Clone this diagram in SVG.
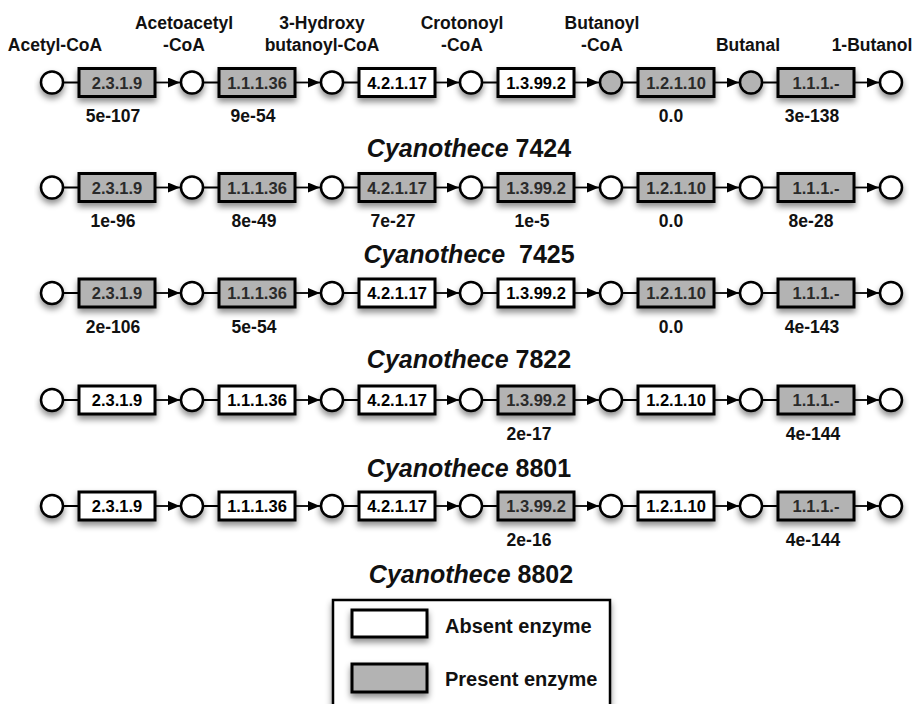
<svg xmlns="http://www.w3.org/2000/svg" width="919" height="704" viewBox="0 0 919 704">
<defs>
<filter id="sh" x="-30%" y="-40%" width="160%" height="200%">
<feDropShadow dx="0" dy="4" stdDeviation="3" flood-color="#000" flood-opacity="0.45"/>
</filter>
<marker id="ah" markerWidth="13" markerHeight="11" refX="12" refY="5" orient="auto" markerUnits="userSpaceOnUse">
<path d="M0,0 L12,5 L0,10 z" fill="#000"/>
</marker>
<style>
text{font-family:"Liberation Sans",Arial,Helvetica,sans-serif;font-weight:bold;}
.met circle{fill:#fff;stroke:#000;stroke-width:2.5;filter:url(#sh);}
.met.g circle{fill:#b3b3b3;}
.enz rect{stroke:#000;stroke-width:3;filter:url(#sh);}
.abs rect{fill:#fff;}
.pres rect{fill:#b3b3b3;}
.enz text{font-size:16.5px;text-anchor:middle;}
.abs text{fill:#000;}
.pres text{fill:#2a2a2a;}
.val{font-size:17.5px;text-anchor:middle;fill:#111;}
.top{font-size:17.5px;text-anchor:middle;fill:#111;}
.title{font-size:25px;text-anchor:middle;fill:#111;}
.title .sp{font-style:italic;}
.ln{stroke:#000;stroke-width:1.8;fill:none;}
.ar{stroke:#000;stroke-width:1.8;fill:none;marker-end:url(#ah);}
.legtxt{font-size:20px;fill:#111;}
</style>
</defs>
<rect width="919" height="704" fill="#fff"/>

<g id="top-labels">
<text class="top" x="55" y="51">Acetyl-CoA</text>
<text class="top" x="184" y="29">Acetoacetyl</text>
<text class="top" x="184" y="51">-CoA</text>
<text class="top" x="322" y="29">3-Hydroxy</text>
<text class="top" x="322" y="51">butanoyl-CoA</text>
<text class="top" x="462" y="29">Crotonoyl</text>
<text class="top" x="462" y="51">-CoA</text>
<text class="top" x="602" y="29">Butanoyl</text>
<text class="top" x="602" y="51">-CoA</text>
<text class="top" x="748" y="51">Butanal</text>
<text class="top" x="872" y="51">1-Butanol</text>
</g>

<g id="connectors">
<path class="ln" d="M63,82.5H79 M203,82.5H219 M343,82.5H359 M482,82.5H498 M622,82.5H638 M762,82.5H778"/>
<path class="ar" d="M155,82.5H180"/><path class="ar" d="M295,82.5H320"/><path class="ar" d="M435,82.5H459"/><path class="ar" d="M574,82.5H599"/><path class="ar" d="M714,82.5H739"/><path class="ar" d="M854,82.5H879"/>
<path class="ln" d="M63,187.5H79 M203,187.5H219 M343,187.5H359 M482,187.5H498 M622,187.5H638 M762,187.5H778"/>
<path class="ar" d="M155,187.5H180"/><path class="ar" d="M295,187.5H320"/><path class="ar" d="M435,187.5H459"/><path class="ar" d="M574,187.5H599"/><path class="ar" d="M714,187.5H739"/><path class="ar" d="M854,187.5H879"/>
<path class="ln" d="M63,293H79 M203,293H219 M343,293H359 M482,293H498 M622,293H638 M762,293H778"/>
<path class="ar" d="M155,293H180"/><path class="ar" d="M295,293H320"/><path class="ar" d="M435,293H459"/><path class="ar" d="M574,293H599"/><path class="ar" d="M714,293H739"/><path class="ar" d="M854,293H879"/>
<path class="ln" d="M63,400H79 M203,400H219 M343,400H359 M482,400H498 M622,400H638 M762,400H778"/>
<path class="ar" d="M155,400H180"/><path class="ar" d="M295,400H320"/><path class="ar" d="M435,400H459"/><path class="ar" d="M574,400H599"/><path class="ar" d="M714,400H739"/><path class="ar" d="M854,400H879"/>
<path class="ln" d="M63,506H79 M203,506H219 M343,506H359 M482,506H498 M622,506H638 M762,506H778"/>
<path class="ar" d="M155,506H180"/><path class="ar" d="M295,506H320"/><path class="ar" d="M435,506H459"/><path class="ar" d="M574,506H599"/><path class="ar" d="M714,506H739"/><path class="ar" d="M854,506H879"/>
</g>

<g id="r1">
<g id="r1-m1" class="met"><circle cx="52" cy="82.5" r="11"/></g>
<g id="r1-e1" class="enz pres"><rect x="79" y="68.5" width="76" height="28"/><text x="117" y="88.5">2.3.1.9</text></g>
<g id="r1-m2" class="met"><circle cx="192" cy="82.5" r="11"/></g>
<g id="r1-e2" class="enz pres"><rect x="219" y="68.5" width="76" height="28"/><text x="257" y="88.5">1.1.1.36</text></g>
<g id="r1-m3" class="met"><circle cx="332" cy="82.5" r="11"/></g>
<g id="r1-e3" class="enz abs"><rect x="359" y="68.5" width="76" height="28"/><text x="397" y="88.5">4.2.1.17</text></g>
<g id="r1-m4" class="met"><circle cx="471" cy="82.5" r="11"/></g>
<g id="r1-e4" class="enz abs"><rect x="498" y="68.5" width="76" height="28"/><text x="536" y="88.5">1.3.99.2</text></g>
<g id="r1-m5" class="met g"><circle cx="611" cy="82.5" r="11"/></g>
<g id="r1-e5" class="enz pres"><rect x="638" y="68.5" width="76" height="28"/><text x="676" y="88.5">1.2.1.10</text></g>
<g id="r1-m6" class="met g"><circle cx="751" cy="82.5" r="11"/></g>
<g id="r1-e6" class="enz pres"><rect x="778" y="68.5" width="76" height="28"/><text x="816" y="88.5">1.1.1.-</text></g>
<g id="r1-m7" class="met"><circle cx="891" cy="82.5" r="11"/></g>
<g id="r1-vals">
<text class="val" x="113" y="121.5">5e-107</text>
<text class="val" x="253" y="121.5">9e-54</text>
<text class="val" x="671" y="121.5">0.0</text>
<text class="val" x="812" y="121.5">3e-138</text>
</g>
<text class="title" x="469" y="157"><tspan class="sp">Cyanothece</tspan> 7424</text>
</g>

<g id="r2">
<g id="r2-m1" class="met"><circle cx="52" cy="187.5" r="11"/></g>
<g id="r2-e1" class="enz pres"><rect x="79" y="173.5" width="76" height="28"/><text x="117" y="193.5">2.3.1.9</text></g>
<g id="r2-m2" class="met"><circle cx="192" cy="187.5" r="11"/></g>
<g id="r2-e2" class="enz pres"><rect x="219" y="173.5" width="76" height="28"/><text x="257" y="193.5">1.1.1.36</text></g>
<g id="r2-m3" class="met"><circle cx="332" cy="187.5" r="11"/></g>
<g id="r2-e3" class="enz pres"><rect x="359" y="173.5" width="76" height="28"/><text x="397" y="193.5">4.2.1.17</text></g>
<g id="r2-m4" class="met"><circle cx="471" cy="187.5" r="11"/></g>
<g id="r2-e4" class="enz pres"><rect x="498" y="173.5" width="76" height="28"/><text x="536" y="193.5">1.3.99.2</text></g>
<g id="r2-m5" class="met"><circle cx="611" cy="187.5" r="11"/></g>
<g id="r2-e5" class="enz pres"><rect x="638" y="173.5" width="76" height="28"/><text x="676" y="193.5">1.2.1.10</text></g>
<g id="r2-m6" class="met"><circle cx="751" cy="187.5" r="11"/></g>
<g id="r2-e6" class="enz pres"><rect x="778" y="173.5" width="76" height="28"/><text x="816" y="193.5">1.1.1.-</text></g>
<g id="r2-m7" class="met"><circle cx="891" cy="187.5" r="11"/></g>
<g id="r2-vals">
<text class="val" x="113" y="227">1e-96</text>
<text class="val" x="254" y="227">8e-49</text>
<text class="val" x="393" y="227">7e-27</text>
<text class="val" x="532" y="227">1e-5</text>
<text class="val" x="671" y="227">0.0</text>
<text class="val" x="811" y="227">8e-28</text>
</g>
<text class="title" x="469" y="262.5" xml:space="preserve"><tspan class="sp">Cyanothece</tspan>  7425</text>
</g>

<g id="r3">
<g id="r3-m1" class="met"><circle cx="52" cy="293" r="11"/></g>
<g id="r3-e1" class="enz pres"><rect x="79" y="279" width="76" height="28"/><text x="117" y="299">2.3.1.9</text></g>
<g id="r3-m2" class="met"><circle cx="192" cy="293" r="11"/></g>
<g id="r3-e2" class="enz pres"><rect x="219" y="279" width="76" height="28"/><text x="257" y="299">1.1.1.36</text></g>
<g id="r3-m3" class="met"><circle cx="332" cy="293" r="11"/></g>
<g id="r3-e3" class="enz abs"><rect x="359" y="279" width="76" height="28"/><text x="397" y="299">4.2.1.17</text></g>
<g id="r3-m4" class="met"><circle cx="471" cy="293" r="11"/></g>
<g id="r3-e4" class="enz abs"><rect x="498" y="279" width="76" height="28"/><text x="536" y="299">1.3.99.2</text></g>
<g id="r3-m5" class="met"><circle cx="611" cy="293" r="11"/></g>
<g id="r3-e5" class="enz pres"><rect x="638" y="279" width="76" height="28"/><text x="676" y="299">1.2.1.10</text></g>
<g id="r3-m6" class="met"><circle cx="751" cy="293" r="11"/></g>
<g id="r3-e6" class="enz pres"><rect x="778" y="279" width="76" height="28"/><text x="816" y="299">1.1.1.-</text></g>
<g id="r3-m7" class="met"><circle cx="891" cy="293" r="11"/></g>
<g id="r3-vals">
<text class="val" x="113" y="332.5">2e-106</text>
<text class="val" x="254" y="332.5">5e-54</text>
<text class="val" x="671" y="332.5">0.0</text>
<text class="val" x="812" y="332.5">4e-143</text>
</g>
<text class="title" x="469" y="368"><tspan class="sp">Cyanothece</tspan> 7822</text>
</g>

<g id="r4">
<g id="r4-m1" class="met"><circle cx="52" cy="400" r="11"/></g>
<g id="r4-e1" class="enz abs"><rect x="79" y="386" width="76" height="28"/><text x="117" y="406">2.3.1.9</text></g>
<g id="r4-m2" class="met"><circle cx="192" cy="400" r="11"/></g>
<g id="r4-e2" class="enz abs"><rect x="219" y="386" width="76" height="28"/><text x="257" y="406">1.1.1.36</text></g>
<g id="r4-m3" class="met"><circle cx="332" cy="400" r="11"/></g>
<g id="r4-e3" class="enz abs"><rect x="359" y="386" width="76" height="28"/><text x="397" y="406">4.2.1.17</text></g>
<g id="r4-m4" class="met"><circle cx="471" cy="400" r="11"/></g>
<g id="r4-e4" class="enz pres"><rect x="498" y="386" width="76" height="28"/><text x="536" y="406">1.3.99.2</text></g>
<g id="r4-m5" class="met"><circle cx="611" cy="400" r="11"/></g>
<g id="r4-e5" class="enz abs"><rect x="638" y="386" width="76" height="28"/><text x="676" y="406">1.2.1.10</text></g>
<g id="r4-m6" class="met"><circle cx="751" cy="400" r="11"/></g>
<g id="r4-e6" class="enz pres"><rect x="778" y="386" width="76" height="28"/><text x="816" y="406">1.1.1.-</text></g>
<g id="r4-m7" class="met"><circle cx="891" cy="400" r="11"/></g>
<g id="r4-vals">
<text class="val" x="529" y="439.5">2e-17</text>
<text class="val" x="813" y="439.5">4e-144</text>
</g>
<text class="title" x="469" y="476.5"><tspan class="sp">Cyanothece</tspan> 8801</text>
</g>

<g id="r5">
<g id="r5-m1" class="met"><circle cx="52" cy="506" r="11"/></g>
<g id="r5-e1" class="enz abs"><rect x="79" y="492" width="76" height="28"/><text x="117" y="512">2.3.1.9</text></g>
<g id="r5-m2" class="met"><circle cx="192" cy="506" r="11"/></g>
<g id="r5-e2" class="enz abs"><rect x="219" y="492" width="76" height="28"/><text x="257" y="512">1.1.1.36</text></g>
<g id="r5-m3" class="met"><circle cx="332" cy="506" r="11"/></g>
<g id="r5-e3" class="enz abs"><rect x="359" y="492" width="76" height="28"/><text x="397" y="512">4.2.1.17</text></g>
<g id="r5-m4" class="met"><circle cx="471" cy="506" r="11"/></g>
<g id="r5-e4" class="enz pres"><rect x="498" y="492" width="76" height="28"/><text x="536" y="512">1.3.99.2</text></g>
<g id="r5-m5" class="met"><circle cx="611" cy="506" r="11"/></g>
<g id="r5-e5" class="enz abs"><rect x="638" y="492" width="76" height="28"/><text x="676" y="512">1.2.1.10</text></g>
<g id="r5-m6" class="met"><circle cx="751" cy="506" r="11"/></g>
<g id="r5-e6" class="enz pres"><rect x="778" y="492" width="76" height="28"/><text x="816" y="512">1.1.1.-</text></g>
<g id="r5-m7" class="met"><circle cx="891" cy="506" r="11"/></g>
<g id="r5-vals">
<text class="val" x="529" y="545.5">2e-16</text>
<text class="val" x="813" y="545.5">4e-144</text>
</g>
<text class="title" x="471" y="583"><tspan class="sp">Cyanothece</tspan> 8802</text>
</g>

<g id="legend">
<rect x="333" y="600" width="277" height="115" fill="#fff" stroke="#000" stroke-width="2.5" filter="url(#sh)"/>
<g id="leg-absent" class="enz abs"><rect x="352" y="610" width="75" height="27"/></g>
<text class="legtxt" x="445" y="632.5">Absent enzyme</text>
<g id="leg-present" class="enz pres"><rect x="352" y="664" width="75" height="28"/></g>
<text class="legtxt" x="445" y="686">Present enzyme</text>
</g>
</svg>
